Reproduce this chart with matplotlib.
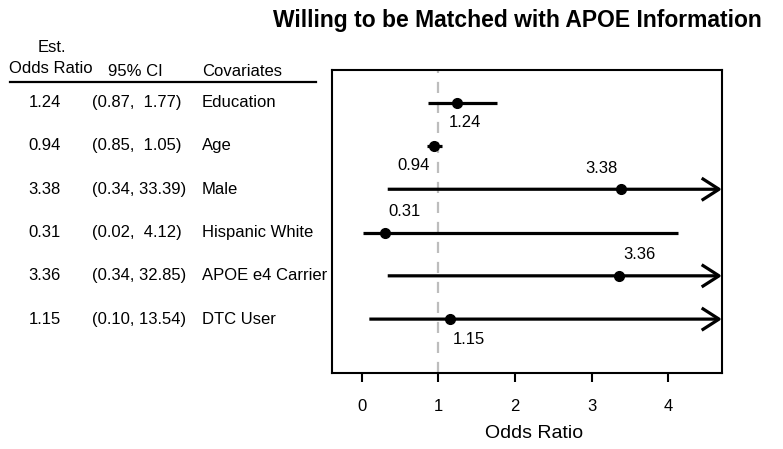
import matplotlib
matplotlib.use("Agg")
import matplotlib.pyplot as plt
import matplotlib.transforms as mtransforms
from matplotlib.lines import Line2D

plt.rcParams["font.family"] = ["Liberation Sans", "DejaVu Sans"]

covariates = ["Education", "Age", "Male", "Hispanic White", "APOE e4 Carrier", "DTC User"]
odds_ratio = [1.24, 0.94, 3.38, 0.31, 3.36, 1.15]
ci_low = [0.87, 0.85, 0.34, 0.02, 0.34, 0.10]
ci_high = [1.77, 1.05, 33.39, 4.12, 32.85, 13.54]
x_ticks = [0, 1, 2, 3, 4]

# label offsets in pixels (dx, dy) for the estimate annotations
label_offsets = [(8, -20), (-20, -20), (-19, 21), (19, 21), (20, 21), (19, -20)]

W, H = 783, 449
fig = plt.figure(figsize=(W / 100, H / 100), dpi=100)
ax = fig.add_axes([332 / W, 1 - 373 / H, 390 / W, 303 / H])

x_min, x_max = -0.387, 4.70
n = len(covariates)
ys = list(range(n, 0, -1))

ax.axvline(1, color="#bdbdbd", lw=1.6, ls=(0, (5, 4)), zorder=1)

for y, est, lo, hi, (dx, dy) in zip(ys, odds_ratio, ci_low, ci_high, label_offsets):
    if hi > x_max:
        ax.annotate("", xy=(x_max, y), xytext=(lo, y), annotation_clip=False,
                    arrowprops=dict(arrowstyle="->,head_length=1.25,head_width=0.8", color="black",
                                    lw=2.3, mutation_scale=10, shrinkA=0, shrinkB=0,
                                    capstyle="butt"), zorder=3)
    else:
        ax.plot([lo, hi], [y, y], color="black", lw=2.3, solid_capstyle="butt", zorder=2)
    ax.plot(est, y, "o", color="black", ms=7, zorder=4)
    ax.annotate(f"{est:.2f}", xy=(est, y), xytext=(dx, dy), textcoords="offset pixels",
                ha="center", va="center", fontsize=12)

ax.set_xlim(x_min, x_max)
ax.set_ylim(-0.245, 6.755)
ax.set_yticks([])
ax.set_xticks(x_ticks)
ax.tick_params(axis="x", length=6.5, width=1.5, pad=12, labelsize=12)
for sp in ax.spines.values():
    sp.set_linewidth(1.5)
ax.set_xlabel("Odds Ratio", fontsize=14)
ax.xaxis.set_label_coords((534 - 332) / 390, -(433 - 373) / 303)
ax.xaxis.label.set_va("center")

# left-hand table
trans = mtransforms.blended_transform_factory(fig.transFigure, ax.transData)
for y, est, lo, hi, name in zip(ys, odds_ratio, ci_low, ci_high, covariates):
    ax.text(44.5 / W, y, f"{est:.2f}", transform=trans, ha="center", va="center", fontsize=12)
    ax.text(92 / W, y, f"({lo:.2f}, {hi:5.2f})", transform=trans, ha="left", va="center", fontsize=12)
    ax.text(202 / W, y, name, transform=trans, ha="left", va="center", fontsize=12)

fig.text(52 / W, 1 - 48 / H, "Est.", ha="center", va="center", fontsize=12)
fig.text(51 / W, 1 - 69 / H, "Odds Ratio", ha="center", va="center", fontsize=12)
fig.text(135 / W, 1 - 72 / H, "95% CI", ha="center", va="center", fontsize=12)
fig.text(202 / W, 1 - 72 / H, "Covariates", ha="left", va="center", fontsize=12)
fig.add_artist(Line2D([10 / W, 316 / W], [1 - 81.7 / H, 1 - 81.7 / H], color="black", lw=1.6))

fig.text(517.5 / W, 1 - 20 / H, "Willing to be Matched with APOE Information",
         ha="center", va="center", fontsize=16.5, fontweight="bold")

fig.savefig("out.png", dpi=100)
